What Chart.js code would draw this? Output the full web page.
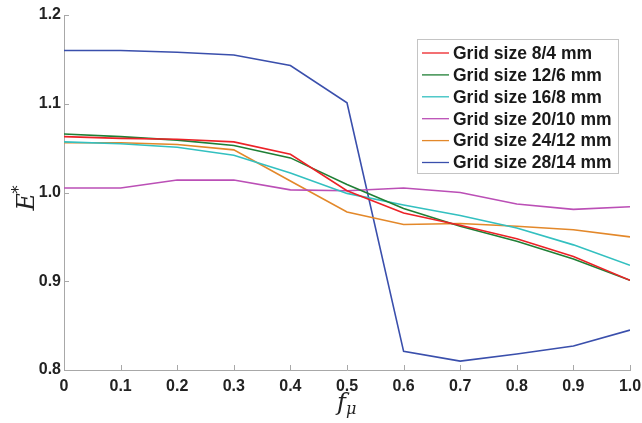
<!DOCTYPE html>
<html>
<head>
<meta charset="utf-8">
<script src="https://cdn.jsdelivr.net/npm/chart.js@4.4.0/dist/chart.umd.min.js"></script>
<style>
  html, body { margin: 0; padding: 0; background: #fff; }
  #wrap { width: 642px; height: 423px; position: relative; }
</style>
</head>
<body>
<div id="wrap"><canvas id="gridChart" width="642" height="423"></canvas></div>
<script>
const fValues = [0, 0.1, 0.2, 0.3, 0.4, 0.5, 0.6, 0.7, 0.8, 0.9, 1.0];
const xTicks = [0, 0.1, 0.2, 0.3, 0.4, 0.5, 0.6, 0.7, 0.8, 0.9, 1.0];
const yTicks = [0.8, 0.9, 1.0, 1.1, 1.2];

const seriesNames = [
    "Grid size 8/4 mm",
    "Grid size 12/6 mm",
    "Grid size 16/8 mm",
    "Grid size 20/10 mm",
    "Grid size 24/12 mm",
    "Grid size 28/14 mm"
];
const seriesColors = ["#ec2227", "#1f7f35", "#33c0c0", "#bb4fb6", "#e3882a", "#3a4fac"];

const grid8 = [1.063, 1.061, 1.060, 1.057, 1.043, 1.002, 0.977, 0.963, 0.948, 0.928, 0.901];
const grid12 = [1.066, 1.063, 1.059, 1.053, 1.039, 1.009, 0.982, 0.962, 0.945, 0.925, 0.901];
const grid16 = [1.057, 1.055, 1.051, 1.042, 1.022, 0.999, 0.986, 0.974, 0.960, 0.941, 0.918];
const grid20 = [1.005, 1.005, 1.014, 1.014, 1.003, 1.002, 1.005, 1.000, 0.987, 0.981, 0.984];
const grid24 = [1.056, 1.056, 1.054, 1.048, 1.013, 0.978, 0.964, 0.965, 0.962, 0.958, 0.950];
const grid28 = [1.160, 1.160, 1.158, 1.155, 1.143, 1.101, 0.821, 0.810, 0.818, 0.827, 0.845];

const allSeries = [grid8, grid12, grid16, grid20, grid24, grid28];

const axisGray = "#a8a8a8";
const tickFont = { family: "'Liberation Sans', Arial, sans-serif", size: 16, weight: "bold" };

// small ticks pointing into the plot, like the original figure
const innerTicks = {
    id: "innerTicks",
    afterDraw(chart) {
        const ctx = chart.ctx;
        const xs = chart.scales.x, ys = chart.scales.y;
        ctx.save();
        ctx.strokeStyle = axisGray;
        ctx.lineWidth = 1;
        ctx.beginPath();
        xTicks.forEach(v => {
            const px = Math.round(xs.getPixelForValue(v)) + 0.5;
            ctx.moveTo(px, ys.bottom);
            ctx.lineTo(px, ys.bottom - 5);
        });
        yTicks.forEach(v => {
            const py = Math.round(ys.getPixelForValue(v)) + 0.5;
            ctx.moveTo(xs.left, py);
            ctx.lineTo(xs.left + 5, py);
        });
        ctx.stroke();
        ctx.restore();
    }
};

// axis titles E* and f_mu
const axisTitles = {
    id: "axisTitles",
    afterDraw(chart) {
        const ctx = chart.ctx;
        const area = chart.chartArea;
        ctx.save();
        ctx.fillStyle = "#222";
        ctx.textBaseline = "alphabetic";

        // y title, rotated
        ctx.translate(34, (area.top + area.bottom) / 2 + 10);
        ctx.rotate(-Math.PI / 2);
        ctx.font = "italic 24px 'DejaVu Serif', 'Liberation Serif', serif";
        ctx.fillText("E", -8, 0);
        ctx.font = "16px 'DejaVu Serif', serif";
        ctx.fillText("*", 9, -10);
        ctx.restore();

        ctx.save();
        ctx.fillStyle = "#222";
        const cx = (area.left + area.right) / 2;
        ctx.font = "italic 24px 'DejaVu Serif', 'Liberation Serif', serif";
        ctx.fillText("f", cx - 10, 410);
        ctx.font = "italic 16px 'DejaVu Serif', serif";
        ctx.fillText("\u03bc", cx - 1, 414);
        ctx.restore();
    }
};

// boxed legend in the upper right of the plot
const boxLegend = {
    id: "boxLegend",
    afterDraw(chart) {
        const ctx = chart.ctx;
        const left = 417, top = 39, width = 201, height = 134;
        ctx.save();
        ctx.fillStyle = "#fff";
        ctx.fillRect(left, top, width, height);
        ctx.strokeStyle = "#c4c4c4";
        ctx.lineWidth = 1;
        ctx.strokeRect(left + 0.5, top + 0.5, width, height);
        ctx.font = "bold 17.5px 'Liberation Sans', Arial, sans-serif";
        ctx.textBaseline = "middle";
        chart.data.datasets.forEach((ds, i) => {
            const y = top + 14 + i * 21.9;
            ctx.strokeStyle = ds.borderColor;
            ctx.lineWidth = 1.3;
            ctx.beginPath();
            ctx.moveTo(left + 5, y);
            ctx.lineTo(left + 32, y);
            ctx.stroke();
            ctx.fillStyle = "#1a1a1a";
            ctx.fillText(ds.label, left + 36, y + 1);
        });
        ctx.restore();
    }
};

const datasets = allSeries.map((vals, i) => ({
    label: seriesNames[i],
    data: vals.map((v, j) => ({ x: fValues[j], y: v })),
    borderColor: seriesColors[i],
    backgroundColor: seriesColors[i],
    borderWidth: 1.6,
    pointRadius: 0,
    tension: 0,
    fill: false
}));

new Chart(document.getElementById("gridChart"), {
    type: "line",
    data: { datasets: datasets },
    options: {
        responsive: false,
        animation: false,
        layout: { padding: { left: 0, top: 15, right: 12, bottom: 0 } },
        plugins: {
            legend: { display: false },
            tooltip: { enabled: false }
        },
        scales: {
            x: {
                type: "linear",
                min: 0,
                max: 1.0,
                afterBuildTicks: s => { s.ticks = xTicks.map(v => ({ value: v })); },
                afterFit: s => { s.height = 53; s.paddingLeft = 0; s.paddingRight = 0; },
                grid: { display: false, drawTicks: false },
                border: { display: true, color: axisGray, width: 1 },
                ticks: {
                    color: "#222",
                    font: tickFont,
                    padding: 7,
                    maxRotation: 0,
                    callback: v => (v === 0 ? "0" : v.toFixed(1))
                }
            },
            y: {
                min: 0.8,
                max: 1.2,
                afterBuildTicks: s => { s.ticks = yTicks.map(v => ({ value: v })); },
                afterFit: s => { s.width = 64; s.paddingTop = 0; s.paddingBottom = 0; },
                grid: { display: false, drawTicks: false },
                border: { display: true, color: axisGray, width: 1 },
                ticks: {
                    color: "#222",
                    font: tickFont,
                    padding: 3,
                    callback: v => v.toFixed(1)
                }
            }
        }
    },
    plugins: [innerTicks, axisTitles, boxLegend]
});
</script>
</body>
</html>
